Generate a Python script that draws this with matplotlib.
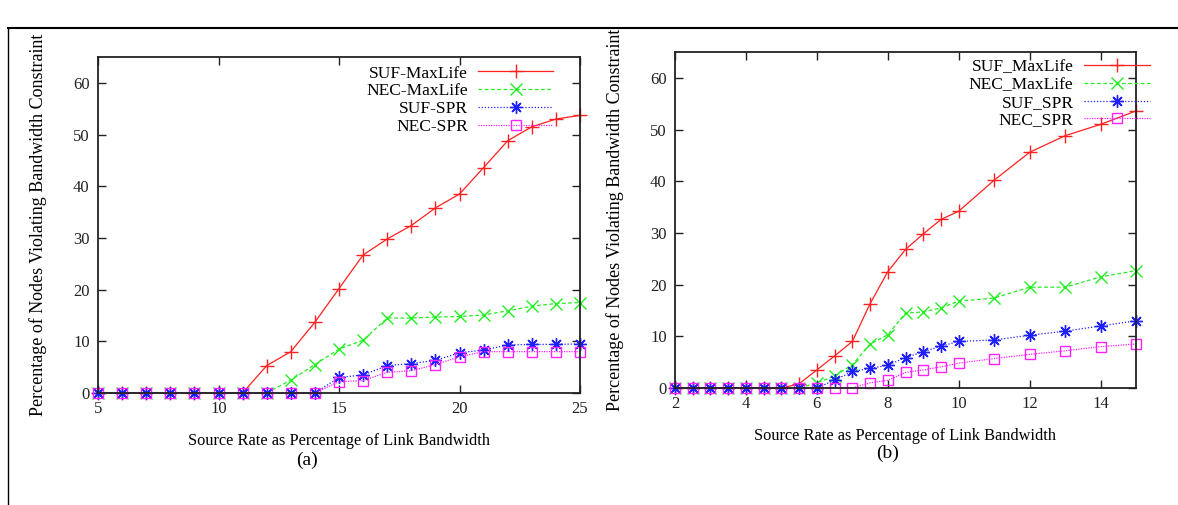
import matplotlib
matplotlib.use("Agg")
import matplotlib.pyplot as plt
from matplotlib.lines import Line2D

plt.rcParams['font.family'] = ['Liberation Serif', 'DejaVu Serif']

# ---- Data: panel (a)
xa = [5, 6, 7, 8, 9, 10, 11, 12, 13, 14, 15, 16, 17, 18, 19, 20, 21, 22, 23, 24, 25]
a_suf_maxlife = [0, 0, 0, 0, 0, 0, 0, 5.3, 8.0, 13.7, 20.2, 26.7, 29.8, 32.4, 35.8, 38.5, 43.6, 48.8, 51.5, 53.0, 53.7]
a_nec_maxlife = [0, 0, 0, 0, 0, 0, 0, 0, 2.5, 5.5, 8.5, 10.2, 14.5, 14.5, 14.7, 14.8, 15.1, 15.9, 16.8, 17.3, 17.5]
a_suf_spr = [0, 0, 0, 0, 0, 0, 0, 0, 0, 0, 3.0, 3.5, 5.3, 5.7, 6.3, 7.8, 8.3, 9.3, 9.4, 9.4, 9.5]
a_nec_spr = [0, 0, 0, 0, 0, 0, 0, 0, 0, 0, 2.2, 2.4, 4.0, 4.3, 5.5, 7.0, 8.0, 8.0, 8.0, 8.0, 8.0]
a_labels = ['SUF-MaxLife', 'NEC-MaxLife', 'SUF-SPR', 'NEC-SPR']
a_xticks = [5, 10, 15, 20, 25]

# ---- Data: panel (b)
xb = [2, 2.5, 3, 3.5, 4, 4.5, 5, 5.5, 6, 6.5, 7, 7.5, 8, 8.5, 9, 9.5, 10, 11, 12, 13, 14, 15]
b_suf_maxlife = [0, 0, 0, 0, 0, 0, 0, 0.8, 3.5, 6.2, 9.0, 16.3, 22.5, 26.8, 29.8, 32.6, 34.2, 40.2, 45.6, 48.8, 51.0, 53.6]
b_nec_maxlife = [0, 0, 0, 0, 0, 0, 0, 0, 1.0, 2.3, 4.5, 8.5, 10.3, 14.5, 14.7, 15.5, 16.8, 17.4, 19.5, 19.5, 21.5, 22.7]
b_suf_spr = [0, 0, 0, 0, 0, 0, 0, 0, 0, 1.5, 3.2, 3.8, 4.4, 5.9, 7.0, 8.1, 9.0, 9.3, 10.2, 11.0, 12.0, 13.0]
b_nec_spr = [0, 0, 0, 0, 0, 0, 0, 0, 0, 0, 0, 1.0, 1.5, 3.0, 3.5, 4.1, 4.8, 5.7, 6.5, 7.2, 8.0, 8.5]
b_labels = ['SUF_MaxLife', 'NEC_MaxLife', 'SUF_SPR', 'NEC_SPR']
b_xticks = [2, 4, 6, 8, 10, 12, 14]

yticks = [0, 10, 20, 30, 40, 50, 60]
xlabel = 'Source Rate as Percentage of Link Bandwidth'
ylabel = 'Percentage of Nodes Violating Bandwidth Constraint'

styles = [
    dict(color='#ff2020', ls='-', marker='+', ms=10, mew=1.0),
    dict(color='#22ee22', ls=(0, (3, 2)), marker='x', ms=8, mew=1.0),
    dict(color='#2020ff', ls=(0, (1, 1.5)), marker=(8, 2, 0), ms=9, mew=1.0),
    dict(color='#ff22ff', ls=(0, (1, 1)), marker='s', ms=7.5, mew=1.0, mfc='none'),
]

fig = plt.figure(figsize=(11.78, 5.05), dpi=100)

ax1 = fig.add_axes([98/1178, 1-393/505, 482/1178, 336/505])
ax2 = fig.add_axes([675/1178, 1-388/505, 461/1178, 336/505])

def draw(ax, x, series, labels, xticks, xlim, anchor, hl, xlpad):
    for ys, lab, st in zip(series, labels, styles):
        ax.plot(x, ys, label=lab, lw=0.9, clip_on=False, zorder=2, **st)
    ax.set_xlim(*xlim)
    ax.set_ylim(0, 65)
    ax.set_xticks(xticks)
    ax.set_yticks(yticks)
    ax.tick_params(direction='in', top=True, right=True, length=6, width=1,
                   labelsize=12, colors='#222222', pad=6)
    for s in ax.spines.values():
        s.set_linewidth(1.3)
        s.set_color('#222222')
        s.set_zorder(3)
    ax.set_xlabel(xlabel, fontsize=11.8, labelpad=xlpad)
    ax.set_ylabel(ylabel, fontsize=13, labelpad=19)
    ax.legend(loc='upper right', bbox_to_anchor=anchor, frameon=False,
              markerfirst=False, handlelength=hl, handletextpad=0.6,
              labelspacing=0.1, borderpad=0, borderaxespad=0, fontsize=12.5)

draw(ax1, xa, [a_suf_maxlife, a_nec_maxlife, a_suf_spr, a_nec_spr], a_labels,
     a_xticks, (5, 25), (0.944, 0.975), 4.3, 11)
draw(ax2, xb, [b_suf_maxlife, b_nec_maxlife, b_suf_spr, b_nec_spr], b_labels,
     b_xticks, (2, 15), (1.03, 0.98), 3.8, 11)

fig.text(307/1178, 1-460/505, '(a)', fontsize=14, ha='center', va='center')
fig.text(888/1178, 1-453/505, '(b)', fontsize=14, ha='center', va='center')

# figure frame lines (top and left)
fig.add_artist(Line2D([8/1178, 1.0], [1-28/505, 1-28/505], color='black', lw=1.5))
fig.add_artist(Line2D([8/1178, 8/1178], [0, 1-28/505], color='black', lw=1.0))

fig.savefig('out.png', dpi=100)
